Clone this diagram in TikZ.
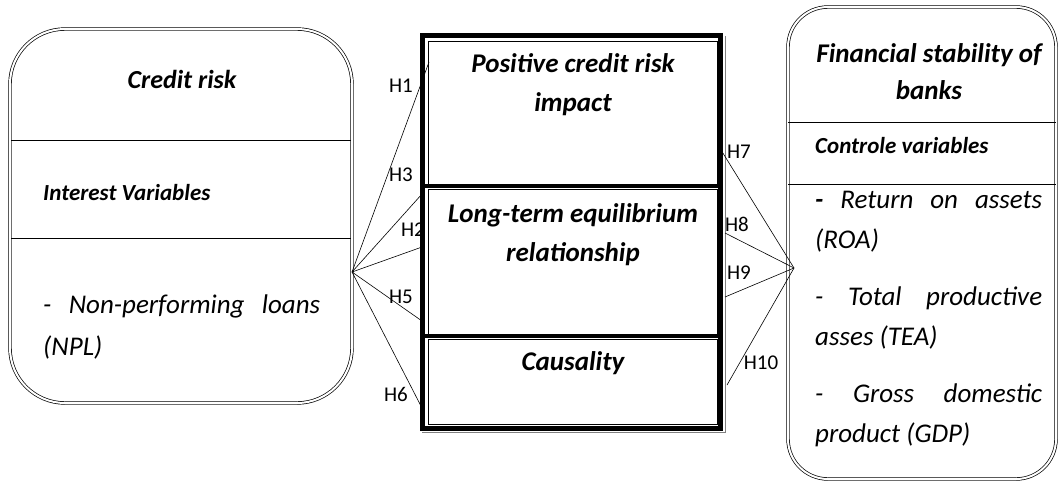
\documentclass[tikz,border=0pt]{standalone}
\usepackage{fontspec}
\setmainfont{Carlito}
\begin{document}
\begin{tikzpicture}[x=1pt,y=-1pt,
  roundbox/.style={draw, double, double distance=2pt, line width=0.7pt, inner sep=0pt},
  innerbox/.style={draw, line width=0.8pt, inner sep=0pt},
  title/.style={font=\fontsize{27}{40}\selectfont\bfseries\itshape, inner sep=0pt, anchor=base},
  sub/.style={font=\fontsize{23}{28}\selectfont\bfseries\itshape, anchor=base west, inner sep=0pt},
  body/.style={font=\fontsize{27}{42}\selectfont\itshape, align=justify, inner sep=0pt, anchor=base west},
  hlab/.style={font=\fontsize{21}{24}\selectfont, inner sep=0pt},
  conn/.style={line width=0.6pt}]
\useasboundingbox (0,0) rectangle (1059,482);
% left box
\node[roundbox, rounded corners=55pt, minimum width=342pt, minimum height=374pt] (cr) at (181,216) {};
\draw[line width=0.7pt] (11,140) -- (351,140);
\draw[line width=0.7pt] (11,238) -- (351,238);
\node[title, font=\fontsize{26}{40}\selectfont\bfseries\itshape] (crt) at (182,88) {Credit risk};
\node[sub] (iv) at (43,200) {Interest Variables};
\node[body, text width=277pt] (npl) at (43,313) {- Non-performing loans (NPL)};
% middle frame
\draw[line width=5pt] (422.5,35.5) rectangle (720.5,428);
\draw[line width=0.6pt, gray] (725,36) -- (725,432) -- (422,432);
\node[innerbox, minimum width=289pt, minimum height=144pt] (b1) at (572.5,113) {};
\node[innerbox, minimum width=289pt, minimum height=146pt] (b2) at (572.5,262) {};
\node[innerbox, minimum width=289pt, minimum height=85pt] (b3) at (572.5,381.5) {};
\draw[line width=4pt] (425,185.5) -- (720,185.5);
\draw[line width=4pt] (425,335.5) -- (720,335.5);
\node[title] (t1a) at (573,72) {Positive credit risk};
\node[title] (t1b) at (573,111) {impact};
\node[title] (t2a) at (573,222) {Long-term equilibrium};
\node[title] (t2b) at (573,261) {relationship};
\node[title] (t3) at (573,370) {Causality};
% right box
\node[roundbox, rounded corners=40pt, minimum width=268pt, minimum height=472pt] (fs) at (922,243) {};
\draw[line width=0.7pt] (788,122) -- (1056,122);
\draw[line width=0.7pt] (788,184) -- (1056,184);
\node[title] (fsa) at (929,62) {Financial stability of};
\node[title] (fsb) at (929,99) {banks};
\node[sub] (cv) at (815,153) {Controle variables};
\node[body, text width=227pt, font=\fontsize{27}{40}\selectfont\itshape] (vars) at (815,208) {\textbf{-} Return on assets (ROA)\par\vspace{17pt}- Total productive asses (TEA)\par\vspace{17pt}- Gross domestic product (GDP)};
% hubs and ends
\coordinate (L) at (352,272);
\coordinate (R) at (794,268);
\coordinate (e1) at (429,62);
\coordinate (e3) at (422,194);
\coordinate (e2) at (422,247);
\coordinate (e5) at (422,321);
\coordinate (e6) at (422,408);
\coordinate (e7) at (721,150);
\coordinate (e8) at (725,233);
\coordinate (e9) at (725,297);
\coordinate (e10) at (727,385);
\foreach \e in {e1,e2,e3,e5,e6} \draw[conn] (L) -- (\e);
\foreach \e in {e7,e8,e9,e10} \draw[conn] (R) -- (\e);
\node[hlab] (h1) at (401,86) {H1};
\node[hlab] (h3) at (401,175) {H3};
\node[hlab] (h2) at (413,230) {H2};
\node[hlab] (h5) at (401,297) {H5};
\node[hlab] (h6) at (396,394) {H6};
\node[hlab] (h7) at (739,152) {H7};
\node[hlab] (h8) at (737,224) {H8};
\node[hlab] (h9) at (739,273) {H9};
\node[hlab] (h10) at (761,363) {H10};
\end{tikzpicture}
\end{document}
